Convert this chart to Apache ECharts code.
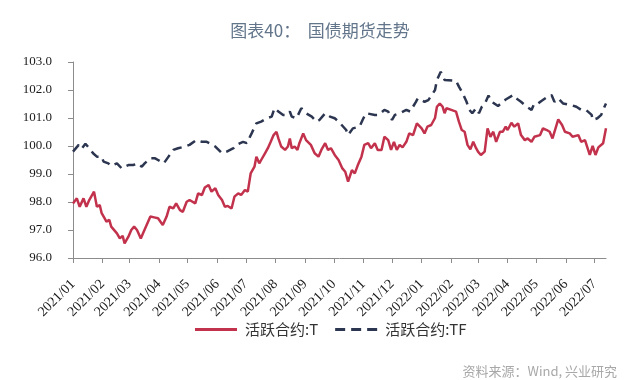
<!DOCTYPE html>
<html>
<head>
<meta charset="utf-8">
<script src="https://cdn.jsdelivr.net/npm/echarts@6/dist/echarts.min.js"></script>
<style>html,body{margin:0;padding:0;background:#fff;}#c{width:640px;height:380px;}</style>
</head>
<body>
<div id="c"></div>
<script>
const titleText = '图表40：  国债期货走势';
const sourceText = '资料来源：Wind, 兴业研究';
const seriesNames = ['活跃合约:T', '活跃合约:TF'];
const tickLabels = ['2021/01','2021/02','2021/03','2021/04','2021/05','2021/06','2021/07','2021/08','2021/09','2021/10','2021/11','2021/12','2022/01','2022/02','2022/03','2022/04','2022/05','2022/06','2022/07'];
const yTicks = [96, 97, 98, 99, 100, 101, 102, 103];
const xStart = '2021-01-01';
const xEnd = '2022-07-13';

const tDates = ['2021-01-01','2021-01-05','2021-01-08','2021-01-12','2021-01-15','2021-01-18','2021-01-23','2021-01-26','2021-01-29','2021-01-31',
'2021-02-03','2021-02-05','2021-02-08','2021-02-10','2021-02-16','2021-02-19','2021-02-22','2021-02-24','2021-02-28','2021-03-03',
'2021-03-06','2021-03-09','2021-03-13','2021-03-16','2021-03-18','2021-03-23','2021-03-27','2021-03-31','2021-04-05','2021-04-09',
'2021-04-12','2021-04-16','2021-04-19','2021-04-23','2021-04-26','2021-04-30','2021-05-03','2021-05-09','2021-05-12','2021-05-16',
'2021-05-19','2021-05-23','2021-05-26','2021-05-30','2021-06-02','2021-06-06','2021-06-09','2021-06-12','2021-06-16','2021-06-19',
'2021-06-23','2021-06-26','2021-06-30','2021-07-03','2021-07-06','2021-07-10','2021-07-12','2021-07-15','2021-07-17','2021-07-21',
'2021-07-24','2021-07-27','2021-07-30','2021-08-02','2021-08-04','2021-08-07','2021-08-11','2021-08-14','2021-08-16','2021-08-18',
'2021-08-21','2021-08-24','2021-08-26','2021-08-30','2021-09-02','2021-09-07','2021-09-11','2021-09-15','2021-09-18','2021-09-22',
'2021-09-25','2021-09-28','2021-10-02','2021-10-06','2021-10-10','2021-10-13','2021-10-16','2021-10-20','2021-10-23','2021-10-26',
'2021-10-30','2021-11-02','2021-11-06','2021-11-09','2021-11-13','2021-11-16','2021-11-20','2021-11-23','2021-11-27','2021-11-30',
'2021-12-03','2021-12-06','2021-12-09','2021-12-12','2021-12-16','2021-12-19','2021-12-23','2021-12-27','2022-01-01','2022-01-04',
'2022-01-07','2022-01-11','2022-01-15','2022-01-17','2022-01-20','2022-01-23','2022-01-25','2022-01-27','2022-02-01','2022-02-06',
'2022-02-09','2022-02-12','2022-02-15','2022-02-18','2022-02-21','2022-02-24','2022-02-27','2022-03-01','2022-03-04','2022-03-08',
'2022-03-11','2022-03-14','2022-03-17','2022-03-20','2022-03-24','2022-03-27','2022-03-30','2022-04-01','2022-04-05','2022-04-08',
'2022-04-12','2022-04-15','2022-04-19','2022-04-22','2022-04-26','2022-04-29','2022-05-05','2022-05-08','2022-05-12','2022-05-15',
'2022-05-18','2022-05-24','2022-05-28','2022-05-31','2022-06-05','2022-06-08','2022-06-14','2022-06-17','2022-06-21','2022-06-26',
'2022-06-29','2022-07-02','2022-07-05','2022-07-10','2022-07-13'];
const tValues = [97.95,98.13,97.83,98.13,97.83,98.07,98.37,97.83,97.89,97.60,
97.42,97.30,97.36,97.12,96.88,96.70,96.79,96.52,96.76,97.00,
97.12,97.00,96.70,96.94,96.88,97.48,97.45,97.42,97.18,97.48,
97.83,97.77,97.95,97.71,97.65,98.01,98.07,97.95,98.31,98.25,
98.52,98.61,98.37,98.49,98.25,98.07,97.83,97.86,97.77,98.19,
98.31,98.25,98.43,98.37,99.02,99.26,99.62,99.38,99.50,99.74,
99.92,100.15,100.39,100.51,100.27,99.98,99.86,99.98,100.27,99.92,
99.98,99.86,100.10,100.45,100.21,100.04,99.74,99.62,99.86,100.10,
99.86,99.92,99.68,99.50,99.20,99.08,98.73,99.14,99.02,99.30,
99.62,100.04,100.10,99.92,100.10,99.86,99.86,100.33,100.21,99.86,
100.15,99.86,100.04,99.95,100.15,100.45,100.39,100.81,100.63,100.45,
100.69,100.75,101.00,101.40,101.52,101.40,101.17,101.35,101.29,101.23,
100.87,100.57,100.51,100.04,99.88,100.15,99.92,99.80,99.68,99.80,
100.63,100.33,100.51,100.15,100.51,100.51,100.69,100.57,100.83,100.69,
100.81,100.39,100.21,100.27,100.15,100.33,100.39,100.63,100.57,100.51,
100.27,100.95,100.75,100.51,100.45,100.33,100.39,100.15,100.21,99.68,
100.00,99.68,99.95,100.10,100.63];

const tfDates = ['2021-01-01','2021-01-07','2021-01-10','2021-01-14','2021-01-18','2021-01-22','2021-01-26','2021-01-31','2021-02-02','2021-02-07',
'2021-02-10','2021-02-16','2021-02-21','2021-02-24','2021-02-28','2021-03-05','2021-03-10','2021-03-14','2021-03-17','2021-03-23',
'2021-03-28','2021-03-31','2021-04-06','2021-04-11','2021-04-16','2021-04-21','2021-04-28','2021-05-03','2021-05-10','2021-05-16',
'2021-05-21','2021-05-24','2021-05-30','2021-06-06','2021-06-11','2021-06-18','2021-06-21','2021-06-28','2021-07-02','2021-07-07',
'2021-07-12','2021-07-17','2021-07-23','2021-07-28','2021-07-31','2021-08-04','2021-08-09','2021-08-13','2021-08-16','2021-08-18',
'2021-08-23','2021-08-28','2021-09-02','2021-09-08','2021-09-13','2021-09-16','2021-09-22','2021-09-27','2021-10-02','2021-10-07',
'2021-10-14','2021-10-16','2021-10-21','2021-10-28','2021-11-01','2021-11-04','2021-11-13','2021-11-17','2021-11-23','2021-11-27',
'2021-12-01','2021-12-04','2021-12-09','2021-12-16','2021-12-20','2021-12-26','2021-12-28','2022-01-04','2022-01-08','2022-01-15',
'2022-01-17','2022-01-21','2022-01-25','2022-01-27','2022-02-06','2022-02-09','2022-02-13','2022-02-17','2022-02-20','2022-02-23',
'2022-02-27','2022-03-02','2022-03-05','2022-03-08','2022-03-12','2022-03-15','2022-03-18','2022-03-22','2022-03-27','2022-03-30',
'2022-04-07','2022-04-10','2022-04-15','2022-04-21','2022-04-26','2022-04-29','2022-05-03','2022-05-06','2022-05-13','2022-05-17',
'2022-05-20','2022-05-24','2022-05-29','2022-06-07','2022-06-12','2022-06-17','2022-06-22','2022-06-28','2022-06-29','2022-07-04',
'2022-07-08','2022-07-10','2022-07-13'];
const tfValues = [99.80,100.04,99.90,100.08,99.92,99.74,99.62,99.62,99.44,99.38,
99.29,99.38,99.20,99.26,99.32,99.32,99.38,99.26,99.38,99.56,
99.56,99.50,99.38,99.62,99.86,99.92,99.98,100.04,100.21,100.15,
100.15,100.10,99.98,99.74,99.80,99.92,100.04,100.15,100.10,100.45,
100.81,100.87,100.99,101.05,101.35,101.23,101.11,101.11,101.23,101.05,
100.99,101.35,101.17,101.05,100.87,100.93,101.17,101.05,100.99,100.84,
100.57,100.39,100.63,100.69,100.99,101.17,101.11,101.11,101.29,101.23,
100.93,101.11,101.17,101.29,101.23,101.58,101.70,101.58,101.64,102.00,
102.36,102.65,102.36,102.42,102.33,102.12,101.88,101.58,101.29,101.17,
101.35,101.17,101.40,101.50,101.80,101.58,101.52,101.43,101.58,101.66,
101.82,101.70,101.58,101.40,101.29,101.52,101.52,101.60,101.76,101.82,
101.58,101.70,101.52,101.46,101.40,101.29,101.29,101.11,100.93,100.99,
101.11,101.29,101.52];

const dayTime = s => new Date(s + 'T00:00:00').getTime();
const tickTimes = tickLabels.map(s => dayTime(s.replace('/', '-') + '-01'));
const pairs = (d, v) => d.map((x, i) => [dayTime(x), v[i]]);

const chart = echarts.init(document.getElementById('c'), null, {renderer: 'canvas'});
const serif = '"Times New Roman", "Liberation Serif", "DejaVu Serif", serif';
const cjk = 'Noto Sans CJK SC';
const colT = '#c3324c';
const colTF = '#2c3650';
chart.setOption({
  backgroundColor: '#ffffff',
  animation: false,
  textStyle: {fontFamily: serif},
  title: {
    text: titleText, left: 'center', top: 17,
    textStyle: {fontSize: 17, color: '#62758b', fontWeight: 'normal', fontFamily: cjk}
  },
  grid: {left: 73, right: 34, top: 62, bottom: 122, containLabel: false},
  legend: {
    left: 195, top: 322, padding: 0, itemWidth: 42, itemHeight: 3, itemGap: 17,
    textStyle: {fontSize: 15, color: '#333', fontFamily: cjk, padding: [0, 0, 0, 3]},
    data: [
      {name: seriesNames[0], icon: 'path://M0,0h42v3h-42z', itemStyle: {color: colT}},
      {name: seriesNames[1], icon: 'path://M0,0h10v3h-10z M16,0h10v3h-10z M32,0h10v3h-10z', itemStyle: {color: colTF}}
    ]
  },
  xAxis: {
    type: 'value',
    min: dayTime(xStart), max: dayTime(xEnd),
    axisLine: {show: true, onZero: false, lineStyle: {color: '#8c8c8c', width: 1}},
    axisTick: {show: true, length: 5, customValues: tickTimes, lineStyle: {color: '#8c8c8c'}},
    axisLabel: {
      customValues: tickTimes, rotate: 45, margin: 24,
      fontSize: 14, color: '#1a1a1a', fontFamily: serif,
      formatter: v => tickLabels[tickTimes.indexOf(v)] || ''
    },
    splitLine: {show: false}
  },
  yAxis: {
    type: 'value', min: yTicks[0], max: yTicks[yTicks.length - 1], interval: 1,
    axisLine: {show: true, lineStyle: {color: '#8c8c8c', width: 1}},
    axisTick: {show: true, length: 5, lineStyle: {color: '#8c8c8c'}},
    axisLabel: {fontSize: 13, color: '#1a1a1a', fontFamily: serif, margin: 21, formatter: v => v.toFixed(1)},
    splitLine: {show: false}
  },
  series: [
    {
      name: seriesNames[0], type: 'line', data: pairs(tDates, tValues),
      showSymbol: false, symbol: 'none', smooth: false,
      lineStyle: {color: colT, width: 2.5},
      itemStyle: {color: colT}
    },
    {
      name: seriesNames[1], type: 'line', data: pairs(tfDates, tfValues),
      showSymbol: false, symbol: 'none', smooth: false,
      lineStyle: {color: colTF, width: 2.5, type: [9, 6]},
      itemStyle: {color: colTF}
    }
  ],
  graphic: [{
    type: 'text', right: 23, top: 365,
    style: {text: sourceText, fill: '#a8a8a8', font: '13px "' + cjk + '"'}
  }]
});
</script>
</body>
</html>
